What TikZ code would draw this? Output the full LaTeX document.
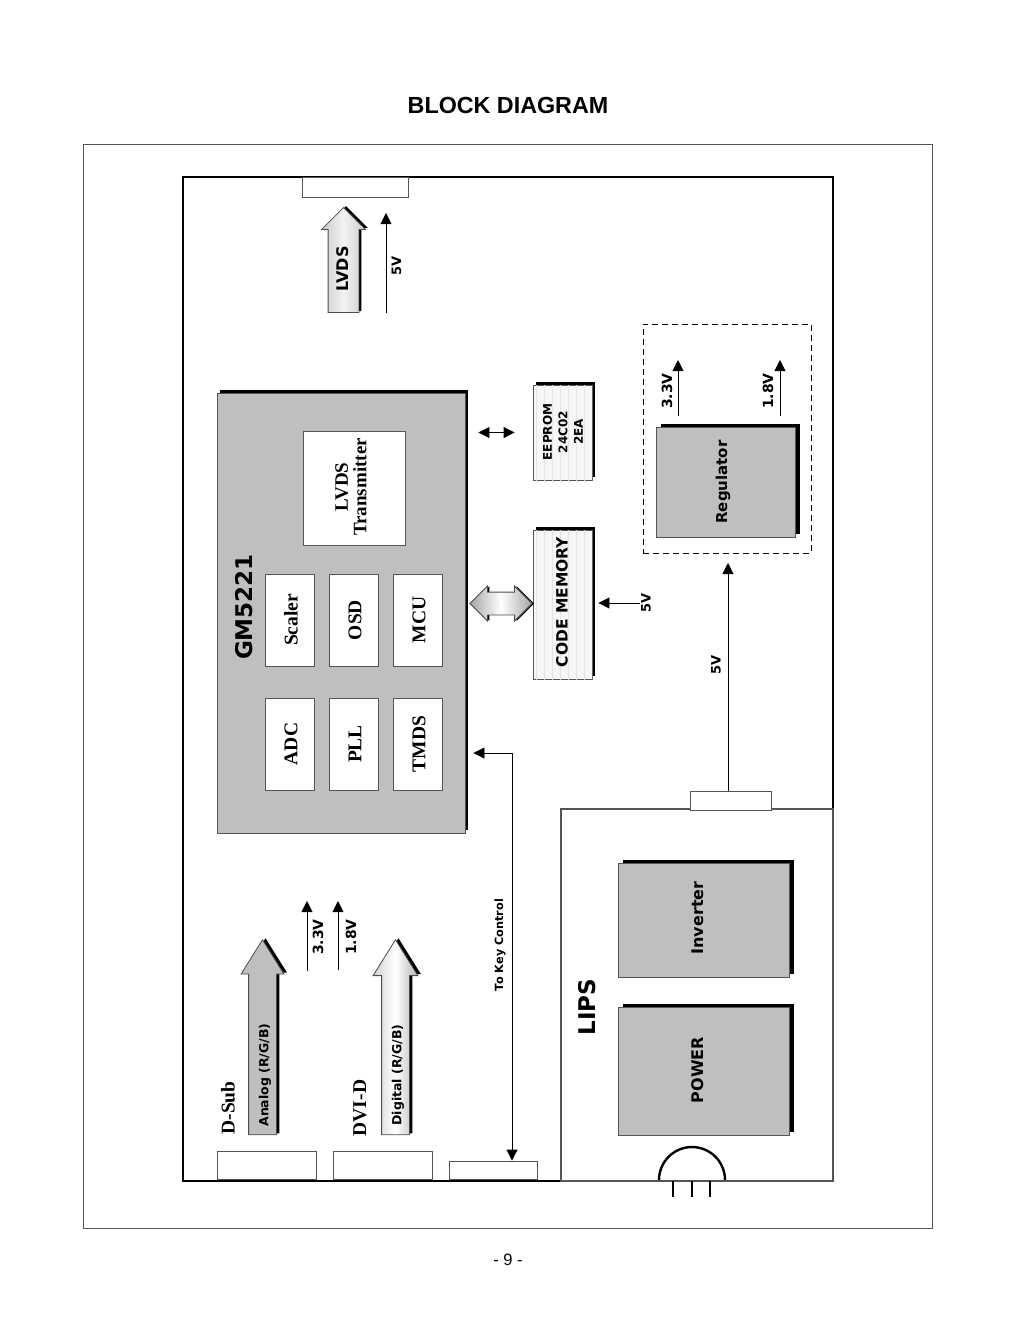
\documentclass[tikz,border=0pt]{standalone}
\usepackage{fontspec}
\setmainfont{Liberation Serif}
\newfontfamily\labelfont{DejaVu Sans}
\newfontfamily\titlefont{Liberation Sans}
\usetikzlibrary{arrows.meta,shadows,shapes.arrows,patterns.meta}
\definecolor{chipgray}{HTML}{BFBFBF}
\definecolor{edgegray}{HTML}{555555}
\newcommand{\fs}[1]{\fontsize{#1}{#1}\selectfont}
\tikzset{
    box/.style={draw=edgegray,line width=0.9pt,inner sep=0pt,align=center},
    conn/.style={box,fill=white},
    shadowed/.style 2 args={drop shadow={shadow xshift=#1,shadow yshift=#2,shadow scale=1,fill=black,opacity=1}},
    chip/.style={box,fill=chipgray},
    block/.style={box,fill=white},
    memory/.style={box,fill=gray!6,postaction={pattern={Lines[angle=90,distance=8pt,line width=0.4pt]},pattern color=gray!20}},
    vlabel/.style={inner sep=0pt,rotate=90,font=\labelfont\bfseries\fs{#1}},
    slabel/.style={inner sep=0pt,rotate=90,font=\bfseries\fs{19.5}},
    feed/.style={line width=0.9pt,-{Triangle[length=11pt,width=11pt]}},
    bus/.style={single arrow,draw=black!70,line width=0.8pt,inner sep=#1,shape border rotate=90,anchor=tip},
}
\begin{document}
\begin{tikzpicture}[x=1pt,y=-1pt]
    \useasboundingbox (0,0) rectangle (1015,1322);
    % Titulo y pagina
    \node[font=\titlefont\bfseries\fs{23.3}] (title) at (508,105) {BLOCK DIAGRAM};
    \node[font=\titlefont\fs{16.5}] (page) at (508,1260) {- 9 -};
    \node[draw=edgegray,line width=0.7pt,inner sep=0pt,minimum width=849.5pt,minimum height=1084pt] (sheet) at (507.7,686) {};

    % Placa
    \node[draw=black,line width=2pt,inner sep=0pt,minimum width=650pt,minimum height=1004pt] (board) at (508,679) {};
    \node[box,line width=1.2pt,minimum width=272pt,minimum height=372pt] (lips) at (697,995) {};
    \node[conn,minimum width=106pt,minimum height=20pt] (lvdscon) at (355,187) {};
    \node[conn,minimum width=81pt,minimum height=19pt] (lipscon) at (730.5,800.5) {};
    \node[conn,minimum width=99pt,minimum height=28pt] (dsub) at (266.5,1165) {};
    \node[conn,minimum width=99pt,minimum height=28pt] (dvi) at (382.5,1165) {};
    \node[conn,minimum width=88pt,minimum height=18pt] (keycon) at (493,1170) {};

    % GM5221 y bloques internos
    \node[chip,shadowed={3pt}{3.5pt},minimum width=248pt,minimum height=440pt] (gm) at (341,613) {};
    \node[vlabel=23] (gmtext) at (244,607) {GM5221};
    \node[block,minimum width=102pt,minimum height=114pt] (lvdstx) at (354,488) {};
    \node[slabel,align=center,font=\bfseries\fontsize{19}{18.5}\selectfont] (lvdstxtext) at (351,487) {LVDS\\Transmitter};
    \foreach \name/\xpos/\ypos/\txt in {scaler/289.5/620/Scaler,osd/353.5/620/OSD,mcu/417.5/620/MCU,adc/289.5/744/ADC,pll/353.5/744/PLL,tmds/417.5/744/TMDS}{
        \node[block,minimum width=49pt,minimum height=92pt] (\name) at (\xpos,\ypos) {};
        \node[slabel] (\name text) at ([xshift=1.5pt]\name.center) {\txt};
    }

    % Memorias
    \node[memory,shadowed={3pt}{3.5pt},minimum width=59pt,minimum height=95pt] (eeprom) at (562.5,432.5) {};
    \node[vlabel=12,align=center,font=\labelfont\bfseries\fontsize{12}{15.5}\selectfont] (eepromtext) at (563,432) {EEPROM\\24C02\\2EA};
    \node[memory,shadowed={3pt}{3.5pt},minimum width=59pt,minimum height=149pt] (codemem) at (562.5,604.5) {};
    \node[vlabel=15.5] (codetext) at (562,602) {CODE MEMORY};
    \draw[line width=0.9pt,{Triangle[length=11pt,width=11pt]}-{Triangle[length=11pt,width=11pt]},shorten <=13pt,shorten >=18pt] (gm.east |- eeprom.west) -- (eeprom.west);
    \node[double arrow,draw=black!70,line width=0.8pt,inner sep=11pt,minimum height=62pt,double arrow head extend=6pt,
        left color=gray!70,right color=gray!70,middle color=white,shadowed={2pt}{0pt}] (membus) at (501,603.5) {};
    \coordinate (memfive) at (640,603);
    \draw[feed,shorten >=6pt] (memfive) -- (memfive -| codemem.east);
    \node[vlabel=13] (memfivetext) at (646,603) {5V};

    % Regulador
    \node[draw=black,dashed,dash pattern=on 6pt off 4pt,line width=0.9pt,inner sep=0pt,minimum width=168pt,minimum height=229pt] (regbox) at (727,438.5) {};
    \node[chip,shadowed={5pt}{3.5pt},minimum width=139pt,minimum height=110pt] (regulator) at (725.5,482) {};
    \node[vlabel=15] (regtext) at (723,482) {Regulator};
    \coordinate (regthree) at (678,360);
    \coordinate (regone) at (780,360);
    \draw[feed] (regthree |- 0,416) -- (regthree);
    \draw[feed] (regone |- 0,416) -- (regone);
    \node[vlabel=14] (regthreetext) at (667,391) {3.3V};
    \node[vlabel=14] (regonetext) at (768,391) {1.8V};
    \coordinate (regin) at (728,563);
    \draw[feed] (regin |- lipscon.north) -- (regin);
    \node[vlabel=13] (reginlabel) at (716,665) {5V};

    % LIPS
    \node[chip,shadowed={5pt}{3.5pt},minimum width=171pt,minimum height=114pt] (inverter) at (703.5,920) {};
    \node[chip,shadowed={5pt}{3.5pt},minimum width=171pt,minimum height=128pt] (power) at (703.5,1071) {};
    \node[vlabel=16] (invtext) at (698,918) {Inverter};
    \node[vlabel=16] (powertext) at (698,1070) {POWER};
    \node[vlabel=23] (lipstext) at (587,1007) {LIPS};
    % Lampara
    \draw[line width=2.4pt] (659,1180) arc (180:360:33);
    \foreach \x in {673,692,710}
        \draw[line width=1.2pt] (\x,1181) -- (\x,1197);

    % Flechas de salida
    \node[bus=15pt,shadowed={2.5pt}{1.5pt},minimum height=105pt,single arrow head extend=6.5pt,
        left color=gray!40,right color=gray!40,middle color=gray!10] (lvdsbus) at (343.5,207) {};
    \node[vlabel=16] (lvdstext) at (343,269) {LVDS};
    \coordinate (lvdsfive) at (386,213);
    \draw[feed] (lvdsfive |- 0,313) -- (lvdsfive);
    \node[vlabel=13] (lvdsfivetext) at (396.5,266) {5V};

    % Entradas
    \node[bus=13.5pt,shadowed={3pt}{1.5pt},minimum height=195pt,single arrow head extend=7.5pt,single arrow tip angle=64,fill=chipgray] (analog) at (262.5,939) {};
    \node[bus=13.5pt,shadowed={3pt}{1.5pt},minimum height=195pt,single arrow head extend=8.5pt,single arrow tip angle=64,
        left color=gray!35,right color=gray!60,middle color=white] (digital) at (395.5,939) {};
    \node[vlabel=12.5] (analogtext) at (265,1075) {Analog (R/G/B)};
    \node[vlabel=12.5] (digitaltext) at (398,1075) {Digital (R/G/B)};
    \node[slabel] (dsubtext) at (228,1108) {D-Sub};
    \node[slabel] (dvitext) at (360,1108) {DVI-D};
    \coordinate (inthree) at (307,901);
    \coordinate (inone) at (338,901);
    \draw[feed] (inthree |- 0,971) -- (inthree);
    \draw[feed] (inone |- 0,970) -- (inone);
    \node[vlabel=14] (inthreetext) at (318,937) {3.3V};
    \node[vlabel=14] (inonetext) at (351,937) {1.8V};

    % Control de teclas
    \coordinate (keycorner) at (512,753);
    \draw[line width=0.9pt,{Triangle[length=11pt,width=11pt]}-{Triangle[length=11pt,width=11pt]},shorten <=8pt] (gm.east |- keycorner) -- (keycorner) -- (keycorner |- keycon.north);
    \node[vlabel=11.3] (keytext) at (500,945) {To Key Control};
\end{tikzpicture}
\end{document}
